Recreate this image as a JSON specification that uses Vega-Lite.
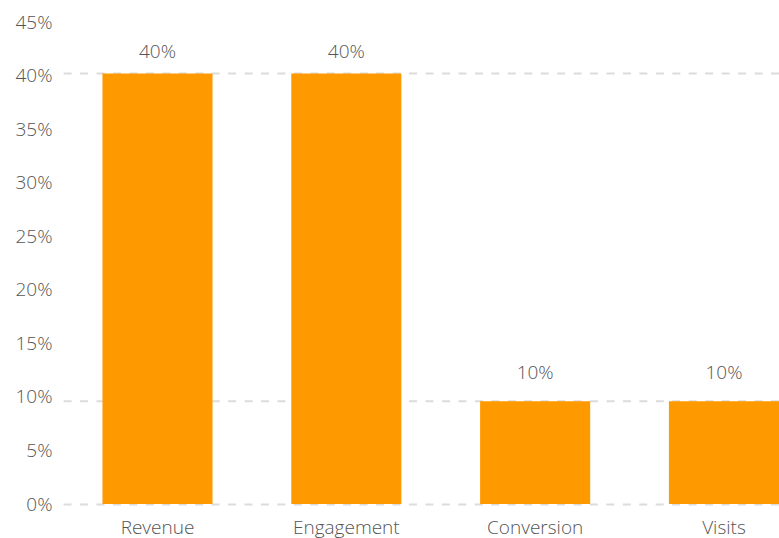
{
  "$schema": "https://vega.github.io/schema/vega-lite/v6.json",
  "autosize": {"type": "none"},
  "width": 716,
  "height": 482,
  "padding": {"left": 63, "top": 22, "right": 0, "bottom": 34},
  "data": {"values": [
    {"metric": "Revenue", "value": 0.402, "shown": 0.4},
    {"metric": "Engagement", "value": 0.402, "shown": 0.4},
    {"metric": "Conversion", "value": 0.096, "shown": 0.1},
    {"metric": "Visits", "value": 0.096, "shown": 0.1}
  ]},
  "config": {
    "view": {"stroke": null},
    "font": "Open Sans",
    "axis": {"labelFont": "Open Sans", "labelColor": "#555555", "labelFontSize": 19, "labelFontWeight": 300}
  },
  "encoding": {
    "x": {
      "field": "metric", "type": "nominal", "sort": null,
      "scale": {"paddingInner": 0.417, "paddingOuter": 0.1045, "align": 1},
      "axis": {"title": null, "labelAngle": 0, "ticks": false, "labelPadding": 14,
               "domain": true, "domainColor": "#dcdcdc", "domainWidth": 2, "domainDash": [8, 8.45]}
    }
  },
  "layer": [
    {
      "transform": [{"aggregate": [], "groupby": ["value"]}],
      "mark": {"type": "rule", "color": "#dcdcdc", "strokeWidth": 2, "strokeDash": [8, 8.45]},
      "encoding": {
        "x": null,
        "y": {"field": "value", "type": "quantitative"}
      }
    },
    {
      "mark": {"type": "bar", "color": "#FF9900"},
      "encoding": {
        "y": {
          "field": "value", "type": "quantitative",
          "scale": {"domain": [0, 0.45], "nice": false},
          "axis": {"title": null, "values": [0, 0.05, 0.1, 0.15, 0.2, 0.25, 0.3, 0.35, 0.4, 0.45],
                   "format": ".0%", "grid": false, "domain": false, "ticks": false, "labelPadding": 11}
        }
      }
    },
    {
      "mark": {"type": "text", "baseline": "alphabetic", "dy": -18, "fontSize": 19, "fontWeight": 300, "color": "#555555", "font": "Open Sans"},
      "encoding": {
        "y": {"field": "shown", "type": "quantitative"},
        "text": {"field": "shown", "type": "quantitative", "format": ".0%"}
      }
    }
  ]
}
